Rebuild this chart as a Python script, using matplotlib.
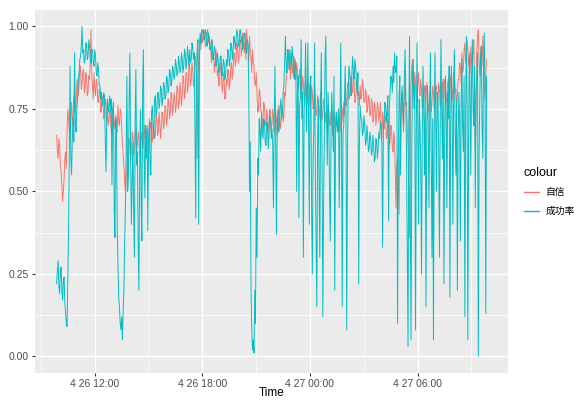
import matplotlib
matplotlib.use("Agg")
import matplotlib.pyplot as plt
import matplotlib.dates as mdates
import matplotlib.ticker as mticker
import pandas as pd

plt.rcParams['font.family'] = ['Liberation Sans', 'Noto Sans CJK SC', 'DejaVu Sans']

# ---------------- data (2.5-minute samples) ----------------
start_time = "2023-04-26 09:53"
step = "150s"

confidence = [  # 自信, one row per hour
    0.67,0.62,0.60,0.66,0.64,0.58,0.56,0.52,0.47,0.50,0.54,0.60,0.62,0.57,0.69,0.75,0.72,0.68,0.65,0.74,0.77,0.70,0.73,0.79,
    0.80,0.74,0.76,0.83,0.84,0.79,0.82,0.87,0.88,0.81,0.83,0.86,0.87,0.80,0.81,0.86,0.85,0.79,0.80,0.85,0.84,0.90,0.99,0.85,
    0.82,0.78,0.86,0.81,0.79,0.84,0.83,0.77,0.77,0.81,0.80,0.74,0.75,0.79,0.78,0.72,0.73,0.78,0.77,0.71,0.74,0.70,0.72,0.75,
    0.73,0.68,0.70,0.75,0.74,0.69,0.71,0.73,0.72,0.68,0.76,0.71,0.70,0.75,0.74,0.69,0.65,0.61,0.58,0.53,0.50,0.55,0.56,0.62,
    0.60,0.66,0.65,0.59,0.62,0.68,0.67,0.61,0.63,0.67,0.69,0.62,0.64,0.68,0.66,0.61,0.62,0.66,0.68,0.63,0.65,0.70,0.67,0.63,
    0.64,0.69,0.68,0.63,0.66,0.71,0.70,0.65,0.65,0.70,0.69,0.66,0.67,0.73,0.72,0.67,0.68,0.74,0.71,0.66,0.69,0.74,0.73,0.69,
    0.71,0.76,0.75,0.70,0.72,0.78,0.77,0.72,0.74,0.80,0.79,0.73,0.75,0.80,0.78,0.74,0.76,0.82,0.81,0.75,0.77,0.83,0.80,0.76,
    0.79,0.85,0.84,0.78,0.80,0.86,0.86,0.80,0.82,0.89,0.88,0.82,0.84,0.89,0.87,0.82,0.83,0.91,0.90,0.84,0.60,0.86,0.89,0.94,
    0.97,0.93,0.99,0.95,0.96,0.99,0.98,0.94,0.95,0.98,0.99,0.95,0.97,0.93,0.94,0.89,0.96,0.90,0.92,0.86,0.89,0.93,0.91,0.85,
    0.87,0.82,0.83,0.89,0.88,0.82,0.80,0.86,0.84,0.78,0.79,0.84,0.82,0.87,0.86,0.81,0.83,0.88,0.89,0.84,0.87,0.92,0.92,0.88,
    0.90,0.95,0.94,0.89,0.91,0.96,0.96,0.91,0.93,0.98,0.97,0.92,0.95,0.90,0.99,0.95,0.94,0.89,0.97,0.92,0.91,0.86,0.93,0.89,
    0.88,0.83,0.82,0.86,0.79,0.74,0.75,0.81,0.80,0.75,0.74,0.69,0.72,0.77,0.76,0.71,0.70,0.75,0.73,0.68,0.71,0.75,0.74,0.69,
    0.70,0.75,0.73,0.68,0.69,0.74,0.72,0.67,0.71,0.76,0.74,0.69,0.70,0.75,0.76,0.71,0.73,0.80,0.79,0.84,0.86,0.91,0.93,0.87,
    0.88,0.84,0.92,0.87,0.86,0.91,0.90,0.84,0.84,0.89,0.87,0.81,0.82,0.87,0.85,0.80,0.80,0.85,0.83,0.78,0.79,0.84,0.82,0.77,
    0.78,0.83,0.81,0.76,0.77,0.82,0.80,0.75,0.76,0.81,0.79,0.73,0.74,0.79,0.78,0.72,0.75,0.80,0.77,0.72,0.73,0.78,0.76,0.71,
    0.74,0.69,0.71,0.76,0.75,0.70,0.70,0.74,0.73,0.67,0.69,0.74,0.72,0.68,0.74,0.70,0.70,0.75,0.73,0.68,0.71,0.76,0.75,0.71,
    0.77,0.73,0.80,0.76,0.76,0.82,0.83,0.78,0.79,0.84,0.85,0.80,0.80,0.86,0.82,0.77,0.78,0.83,0.84,0.79,0.80,0.76,0.82,0.78,
    0.79,0.84,0.82,0.77,0.77,0.81,0.80,0.74,0.75,0.79,0.78,0.73,0.74,0.78,0.77,0.71,0.72,0.77,0.76,0.70,0.73,0.77,0.75,0.71,
    0.73,0.77,0.70,0.66,0.74,0.70,0.69,0.73,0.72,0.66,0.67,0.72,0.70,0.64,0.65,0.70,0.69,0.63,0.62,0.68,0.66,0.55,0.45,0.58,
    0.60,0.52,0.43,0.65,0.72,0.78,0.80,0.73,0.68,0.79,0.84,0.76,0.77,0.70,0.62,0.48,0.36,0.70,0.82,0.88,0.90,0.84,0.78,0.86,
    0.83,0.78,0.77,0.83,0.86,0.80,0.79,0.84,0.81,0.75,0.76,0.81,0.82,0.77,0.78,0.83,0.80,0.74,0.75,0.80,0.79,0.74,0.77,0.82,
    0.80,0.75,0.77,0.82,0.82,0.77,0.78,0.83,0.81,0.76,0.76,0.82,0.83,0.78,0.79,0.84,0.82,0.77,0.78,0.83,0.84,0.79,0.80,0.85,
    0.83,0.78,0.80,0.86,0.85,0.80,0.81,0.76,0.79,0.84,0.84,0.89,0.88,0.83,0.92,0.86,0.87,0.93,0.95,0.89,0.90,0.96,0.93,0.88,
    0.91,0.86,0.94,0.89,0.88,0.93,0.96,0.80,0.62,0.75,0.92,0.97,0.99,0.90,0.85,0.91,0.94,0.88,0.97,0.90,0.82,0.78,0.86,0.90,
]

success = [  # 成功率, one row per hour
    0.22,0.26,0.29,0.21,0.19,0.25,0.27,0.20,0.17,0.23,0.24,0.16,0.13,0.10,0.09,0.25,0.40,0.62,0.88,0.60,0.55,0.66,0.72,0.65,
    0.92,0.70,0.68,0.75,0.78,0.84,0.86,0.90,0.91,0.94,1.00,0.92,0.93,0.89,0.90,0.95,0.95,0.90,0.91,0.96,0.94,0.90,0.89,0.93,
    0.93,0.89,0.88,0.93,0.91,0.86,0.85,0.89,0.87,0.82,0.82,0.78,0.80,0.76,0.77,0.80,0.79,0.66,0.56,0.72,0.78,0.74,0.76,0.79,
    0.74,0.78,0.52,0.75,0.77,0.45,0.36,0.72,0.70,0.40,0.28,0.18,0.15,0.10,0.08,0.12,0.05,0.14,0.20,0.35,0.45,0.62,0.85,0.50,
    0.55,0.78,0.92,0.60,0.40,0.52,0.65,0.45,0.30,0.70,0.87,0.58,0.62,0.35,0.20,0.55,0.75,0.48,0.35,0.80,0.93,0.60,0.48,0.70,
    0.60,0.70,0.38,0.65,0.72,0.58,0.55,0.74,0.76,0.70,0.66,0.78,0.79,0.73,0.74,0.80,0.80,0.75,0.77,0.82,0.81,0.76,0.78,0.83,
    0.82,0.78,0.79,0.85,0.84,0.80,0.81,0.87,0.86,0.82,0.83,0.88,0.87,0.84,0.85,0.90,0.88,0.85,0.86,0.91,0.89,0.86,0.87,0.92,
    0.90,0.86,0.88,0.93,0.92,0.87,0.89,0.94,0.91,0.88,0.93,0.89,0.90,0.95,0.94,0.90,0.92,0.70,0.42,0.85,0.93,0.96,0.40,0.90,
    0.98,0.95,0.97,0.99,0.99,0.96,0.96,0.99,0.98,0.94,0.95,0.98,0.97,0.93,0.93,0.96,0.95,0.90,0.91,0.94,0.93,0.88,0.89,0.92,
    0.90,0.86,0.87,0.91,0.91,0.85,0.86,0.90,0.89,0.84,0.85,0.90,0.88,0.93,0.92,0.88,0.90,0.95,0.94,0.90,0.93,0.97,0.96,0.93,
    0.96,0.99,0.98,0.94,0.95,0.99,0.99,0.95,0.97,0.93,0.94,0.98,0.98,0.93,0.92,0.96,0.95,0.80,0.50,0.65,0.20,0.08,0.02,0.05,
    0.01,0.20,0.10,0.45,0.30,0.60,0.55,0.72,0.68,0.62,0.74,0.68,0.66,0.72,0.71,0.65,0.64,0.71,0.70,0.63,0.67,0.73,0.72,0.66,
    0.69,0.64,0.45,0.70,0.88,0.66,0.37,0.70,0.75,0.68,0.70,0.76,0.78,0.72,0.74,0.80,0.82,0.90,0.97,0.88,0.86,0.93,0.92,0.87,
    0.93,0.89,0.88,0.94,0.91,0.85,0.84,0.90,0.87,0.50,0.80,0.85,0.42,0.76,0.78,0.96,0.72,0.80,0.30,0.74,0.80,0.95,0.68,0.78,
    0.95,0.70,0.40,0.82,0.85,0.45,0.25,0.60,0.70,0.95,0.55,0.35,0.15,0.65,0.78,0.52,0.30,0.75,0.92,0.60,0.12,0.45,0.65,0.90,
    0.97,0.75,0.58,0.80,0.72,0.50,0.35,0.68,0.80,0.72,0.62,0.85,0.20,0.66,0.74,0.70,0.68,0.75,0.45,0.72,0.95,0.70,0.15,0.68,
    0.70,0.78,0.88,0.74,0.08,0.60,0.82,0.88,0.86,0.80,0.79,0.87,0.91,0.85,0.84,0.90,0.88,0.82,0.80,0.86,0.22,0.65,0.76,0.72,
    0.72,0.67,0.68,0.73,0.70,0.64,0.65,0.70,0.67,0.62,0.63,0.68,0.66,0.61,0.62,0.67,0.64,0.59,0.60,0.66,0.65,0.60,0.63,0.68,
    0.66,0.71,0.70,0.64,0.33,0.68,0.72,0.77,0.76,0.71,0.74,0.79,0.41,0.75,0.80,0.85,0.84,0.80,0.88,0.83,0.92,0.87,0.86,0.91,
    0.10,0.60,0.78,0.85,0.55,0.75,0.82,0.76,0.70,0.84,0.93,0.80,0.60,0.30,0.03,0.70,0.97,0.45,0.05,0.62,0.85,0.90,0.75,0.82,
    0.08,0.65,0.95,0.72,0.40,0.78,0.70,0.58,0.25,0.66,0.88,0.75,0.55,0.82,0.15,0.68,0.82,0.70,0.45,0.76,0.92,0.62,0.30,0.72,
    0.05,0.68,0.92,0.74,0.50,0.80,0.78,0.62,0.30,0.70,0.96,0.76,0.60,0.84,0.22,0.66,0.85,0.74,0.45,0.80,0.72,0.88,0.18,0.70,
    0.88,0.74,0.40,0.80,0.93,0.70,0.55,0.78,0.20,0.66,0.80,0.72,0.35,0.75,0.90,0.70,0.62,0.85,0.12,0.70,0.97,0.78,0.05,0.65,
    0.92,0.80,0.55,0.85,0.96,0.75,0.70,0.88,0.45,0.80,0.85,0.92,0.00,0.60,0.78,0.90,0.94,0.70,0.60,0.88,0.98,0.80,0.13,0.85,
]

series_names = ["自信", "成功率"]
series_colors = ["#F8766D", "#00BFC4"]
y_ticks = [0.00, 0.25, 0.50, 0.75, 1.00]
y_tick_labels = ["0.00", "0.25", "0.50", "0.75", "1.00"]
x_label = "Time"
legend_title = "colour"

times = pd.date_range(start_time, periods=len(confidence), freq=step)

# ---------------- figure ----------------
fig = plt.figure(figsize=(5.76, 4.0), dpi=100)
ax = fig.add_axes([0.061, 0.068, 0.821, 0.907])
ax.set_facecolor("#EBEBEB")

ax.plot(times, confidence, color=series_colors[0], lw=0.7, label=series_names[0], zorder=3)
ax.plot(times, success, color=series_colors[1], lw=0.7, label=series_names[1], zorder=4)

# limits (ggplot 5% expansion)
span = times[-1] - times[0]
ax.set_xlim(times[0] - span * 0.05, times[-1] + span * 0.05)
ax.set_ylim(-0.05, 1.05)

ax.set_yticks(y_ticks)
ax.set_yticklabels(y_tick_labels)
ax.yaxis.set_minor_locator(mticker.FixedLocator([0.125, 0.375, 0.625, 0.875]))

ax.xaxis.set_major_locator(mdates.HourLocator(byhour=[0, 6, 12, 18]))
ax.xaxis.set_minor_locator(mdates.HourLocator(byhour=[3, 9, 15, 21]))

def fmt(x, pos=None):
    d = mdates.num2date(x)
    return f"{d.month} {d.day} {d:%H:%M}"

ax.xaxis.set_major_formatter(mticker.FuncFormatter(fmt))

ax.grid(which="major", color="white", lw=1.0, zorder=0)
ax.grid(which="minor", color="white", lw=0.5, zorder=0)
ax.set_axisbelow(True)
for s in ax.spines.values():
    s.set_visible(False)

ax.tick_params(which="major", length=2.5, width=0.8, color="#333333",
               labelsize=7.5, labelcolor="#4D4D4D", pad=2)
ax.tick_params(which="minor", length=0)

ax.set_xlabel(x_label, fontsize=8.5, color="black", labelpad=-1.5)

leg = ax.legend(loc="center left", bbox_to_anchor=(1.015, 0.5), frameon=False,
                title=legend_title, fontsize=7, title_fontsize=9,
                handlelength=1.6, handletextpad=0.6, labelspacing=0.9,
                alignment="left", borderaxespad=0.5)
for h in leg.get_lines():
    h.set_linewidth(1.0)

fig.savefig("out.png", dpi=100)
